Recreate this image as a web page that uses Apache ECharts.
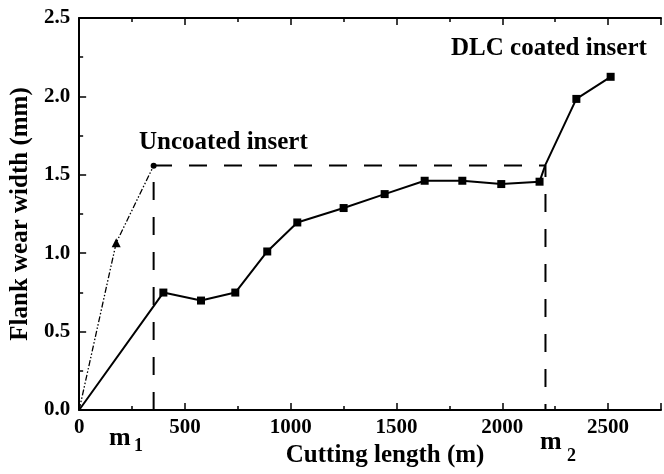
<!DOCTYPE html>
<html>
<head>
<meta charset="utf-8">
<script src="https://cdn.jsdelivr.net/npm/echarts@6/dist/echarts.min.js"></script>
<style>html,body{margin:0;padding:0;background:#fff}#c{width:664px;height:474px}</style>
</head>
<body>
<div id="c"></div>
<script>
// ---- data ----
const uncoatedX = [0, 175, 352];
const uncoatedY = [0, 1.066, 1.558];
const dlcX = [0, 398, 576, 738, 889, 1031, 1250, 1444, 1633, 1811, 1995, 2176, 2204, 2350, 2512];
const dlcY = [0, 0.749, 0.698, 0.749, 1.011, 1.196, 1.288, 1.377, 1.462, 1.462, 1.441, 1.456, 1.565, 1.984, 2.125];
const dlcNoMarker = [0, 12];
const refX = [352, 352, 2204, 2204];
const refY = [0, 1.56, 1.56, 0];
const xTicks = [0, 500, 1000, 1500, 2000, 2500];
const yTicks = [0.0, 0.5, 1.0, 1.5, 2.0, 2.5];

const FONT = '"Liberation Serif","Times New Roman",serif';
const chart = echarts.init(document.getElementById('c'));
const axisCommon = {
  type: 'value', min: 0, max: 2750, interval: 500,
  axisLine: {show: true, lineStyle: {color: '#000', width: 2}},
  axisTick: {show: true, inside: true, length: 7, lineStyle: {color: '#000', width: 1.5}},
  minorTick: {show: true, splitNumber: 2, length: 4, lineStyle: {color: '#000', width: 1.5}},
  splitLine: {show: false}
};
chart.setOption({
  animation: false,
  backgroundColor: '#fff',
  grid: {left: 77, top: 18, bottom: 64, right: -7},
  xAxis: [
    Object.assign({}, axisCommon, {
      position: 'bottom',
      name: 'Cutting length (m)', nameLocation: 'middle', nameGap: 31,
      nameTextStyle: {fontFamily: FONT, fontWeight: 'bold', fontSize: 25, color: '#000', padding: [0, 0, 0, 30]},
      axisLabel: {show: true, margin: 7, fontFamily: FONT, fontWeight: 'bold', fontSize: 21, color: '#000',
        formatter: v => xTicks.includes(v) ? String(v) : ''}
    }),
    Object.assign({}, axisCommon, {position: 'top', axisLabel: {show: false}})
  ],
  yAxis: [{
    type: 'value', min: 0, max: 2.5, interval: 0.5,
    axisLine: {show: true, lineStyle: {color: '#000', width: 2}},
    axisTick: {show: true, inside: true, length: 7, lineStyle: {color: '#000', width: 1.5}},
    minorTick: {show: true, splitNumber: 2, length: 4, lineStyle: {color: '#000', width: 1.5}},
    splitLine: {show: false},
    name: 'Flank wear width (mm)', nameLocation: 'middle', nameGap: 44, nameRotate: 90,
    nameTextStyle: {fontFamily: FONT, fontWeight: 'bold', fontSize: 25, color: '#000'},
    axisLabel: {margin: 9, fontFamily: FONT, fontWeight: 'bold', fontSize: 21, color: '#000',
      formatter: v => yTicks.some(t => Math.abs(t - v) < 1e-9) ? v.toFixed(1) : ''}
  }],
  series: [
    {
      type: 'line', name: 'ref', data: refX.map((x, i) => [x, refY[i]]),
      symbol: 'none', lineStyle: {color: '#000', width: 2, type: [18, 17]}, z: 1
    },
    {
      type: 'line', name: 'Uncoated insert', data: uncoatedX.map((x, i) => [x, uncoatedY[i]]),
      symbol: (v, p) => p.dataIndex === 1 ? 'triangle' : (p.dataIndex === 2 ? 'circle' : 'none'),
      symbolSize: (v, p) => p.dataIndex === 1 ? 9 : 6,
      itemStyle: {color: '#000'},
      lineStyle: {color: '#000', width: 1.3, type: [6, 2, 1.5, 2, 1.5, 2]}, z: 2
    },
    {
      type: 'line', name: 'DLC coated insert', data: dlcX.map((x, i) => [x, dlcY[i]]),
      symbol: (v, p) => dlcNoMarker.includes(p.dataIndex) ? 'none' : 'rect',
      symbolSize: 8, itemStyle: {color: '#000'},
      lineStyle: {color: '#000', width: 2}, z: 3
    }
  ],
  graphic: [
    {type: 'text', left: 139, top: 130, style: {text: 'Uncoated insert', font: 'bold 25px ' + FONT, fill: '#000'}},
    {type: 'text', left: 451, top: 36, style: {text: 'DLC coated insert', font: 'bold 25px ' + FONT, fill: '#000'}},
    {type: 'text', left: 109, top: 425, style: {text: 'm', font: 'bold 26px ' + FONT, fill: '#000'}},
    {type: 'text', left: 134, top: 437, style: {text: '1', font: 'bold 18px ' + FONT, fill: '#000'}},
    {type: 'text', left: 540, top: 429, style: {text: 'm', font: 'bold 26px ' + FONT, fill: '#000'}},
    {type: 'text', left: 567, top: 447, style: {text: '2', font: 'bold 18px ' + FONT, fill: '#000'}}
  ]
});
</script>
</body>
</html>
